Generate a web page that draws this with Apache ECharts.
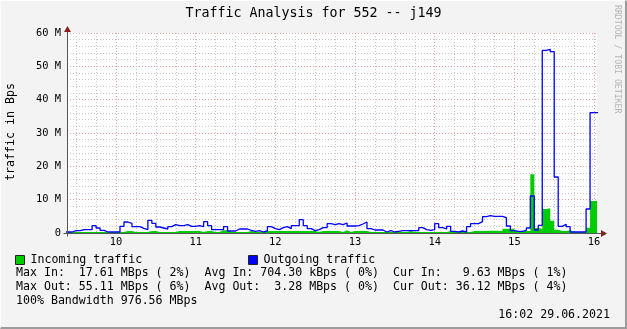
<!DOCTYPE html>
<html><head><meta charset="utf-8">
<script src="https://cdn.jsdelivr.net/npm/echarts@6/dist/echarts.min.js"></script>
<style>
html,body{margin:0;padding:0;background:#f3f3f3;}
#wrap{position:relative;width:627px;height:329px;}
#c{width:627px;height:329px;}
#frame{position:absolute;left:0;top:0;width:627px;height:329px;box-sizing:border-box;border-top:1px solid #fdfdfd;border-left:1px solid #fdfdfd;border-right:2px solid #9c9c9c;border-bottom:2px solid #9c9c9c;pointer-events:none;}
</style></head><body>
<div id="wrap"><div id="c"></div><div id="frame"></div></div>
<script>
// ---- data (values in M bytes/s, one per 3-minute sample starting 09:21) ----
const sampleStartHour = 9 + 21 / 60;
const sampleStepMinutes = 3;
const incoming = [
  0.3,0.3,0.3,0.3,0.3,0.3,0.3,0.3,0.3,0.3,0.3,0.3,0.3,0.3,0.3,
  0.6,0.6,
  0.3,0.3,0.3,0.3,
  0.6,0.6,
  0.3,0.3,0.3,0.3,0.3,
  0.6,0.6,0.6,0.6,0.6,0.6,
  0.3,
  0.6,0.6,
  0.3,0.3,
  0.8,0.8,
  0.3,0.3,0.3,0.3,0.3,
  0.6,
  0.3,0.3,0.3,
  0.6,0.6,0.6,0.6,0.6,0.6,0.6,0.6,0.6,0.6,0.6,0.6,0.6,
  0.3,
  0.6,0.6,0.6,0.6,0.6,
  0.3,
  0.8,
  0.3,
  0.6,0.6,0.6,0.6,
  0.3,0.3,0.3,0.3,0.3,0.3,0.3,0.3,0.3,0.3,
  0.6,
  0.3,0.3,0.3,0.3,0.3,0.3,0.3,0.3,0.3,
  0.6,
  0.3,0.3,0.3,0.3,0.3,
  0.6,0.6,0.6,0.6,
  0.7,0.7,0.7,
  0.6,
  1.3,1.3,1.3,
  0.6,0.6,0.6,0.6,
  17.61,1.5,1.3,7.2,7.4,3.7,1.0,0.6,0.6,0.8,0.3,0.3,0.3,0.3,1.6,9.6,9.63
];
const outgoing = [
  0.3,0.3,0.7,0.7,1.0,1.0,1.0,2.2,1.5,0.8,
  0.3,0.3,0.3,0.3,2.0,3.3,2.9,1.9,1.9,1.4,
  1.0,3.8,2.9,1.8,1.5,1.2,1.9,2.5,2.2,2.2,
  2.5,2.0,2.0,2.2,1.9,3.4,2.2,1.0,1.0,1.0,
  1.9,0.6,0.6,1.2,1.2,1.2,0.8,0.5,0.7,0.3,
  0.6,1.9,1.3,1.0,1.6,1.9,1.3,2.2,2.2,4.0,
  2.2,1.3,0.7,1.0,1.6,1.6,2.8,2.5,2.8,2.5,
  3.0,2.1,2.1,2.2,2.7,3.3,1.3,0.9,0.9,0.9,
  0.3,0.7,0.3,0.5,0.7,0.7,0.7,0.7,0.7,1.6,
  1.0,0.8,1.0,2.8,1.6,1.2,2.0,0.5,0.3,0.6,
  0.3,1.9,2.8,2.8,3.4,4.9,5.2,5.0,5.0,5.0,
  4.6,2.1,0.7,0.5,0.5,0.8,1.5,11.1,0.9,2.3,
  54.8,55.11,54.4,16.8,2.0,2.6,1.9,0.3,0.3,0.3,
  0.3,7.2,36.12,36.12
];
const hourTicks = [10, 11, 12, 13, 14, 15, 16];
const quarterTicks = [9.5, 9.75, 10.25, 10.5, 10.75, 11.25, 11.5, 11.75, 12.25, 12.5, 12.75,
  13.25, 13.5, 13.75, 14.25, 14.5, 14.75, 15.25, 15.5, 15.75];
const yTickLabels = ['0', '10 M', '20 M', '30 M', '40 M', '50 M', '60 M'];
const titleText = 'Traffic Analysis for 552 -- j149';
const seriesNames = ['Incoming traffic', 'Outgoing traffic'];
const statLines = [
  'Max In:  17.61 MBps ( 2%)  Avg In: 704.30 kBps ( 0%)  Cur In:   9.63 MBps ( 1%)',
  'Max Out: 55.11 MBps ( 6%)  Avg Out:  3.28 MBps ( 0%)  Cur Out: 36.12 MBps ( 4%)',
  '100% Bandwidth 976.56 MBps'
];
const stampText = '16:02 29.06.2021';
const watermark = 'RRDTOOL / TOBI OETIKER';

// ---- layout ----
const X_MIN = 9.385, X_MAX = 16.037;
const MONO = "'DejaVu Sans Mono', monospace";

function toSteps(vals) {
  const pts = vals.map((v, i) => [sampleStartHour + i * sampleStepMinutes / 60, v]);
  pts.push([sampleStartHour + vals.length * sampleStepMinutes / 60, vals[vals.length - 1]]);
  return pts;
}

const chart = echarts.init(document.getElementById('c'), null, {renderer: 'canvas'});
const option = {
  backgroundColor: '#f3f3f3',
  animation: false,
  title: {
    text: titleText, left: 'center', top: 7, padding: 0,
    textStyle: {fontFamily: MONO, fontSize: 13.3, fontWeight: 'normal', color: '#000'}
  },
  legend: [
    {data: [seriesNames[0]], left: 15, top: 254, padding: 0, icon: 'rect', itemWidth: 9, itemHeight: 9,
     itemGap: 0, itemStyle: {borderColor: '#222', borderWidth: 1},
     textStyle: {fontFamily: MONO, fontSize: 11.6, color: '#000', padding: [0, 0, 0, 1]}},
    {data: [seriesNames[1]], left: 248, top: 254, padding: 0, icon: 'rect', itemWidth: 9, itemHeight: 9,
     itemGap: 0, itemStyle: {borderColor: '#222', borderWidth: 1},
     textStyle: {fontFamily: MONO, fontSize: 11.6, color: '#000', padding: [0, 0, 0, 1]}}
  ],
  grid: {left: 67, top: 33, width: 530, height: 200, show: true, backgroundColor: '#ffffff', borderWidth: 0},
  xAxis: [
    {type: 'value', min: X_MIN, max: X_MAX, position: 'bottom',
     axisLine: {show: false}, axisTick: {show: false, customValues: quarterTicks},
     axisLabel: {show: false, customValues: quarterTicks},
     splitLine: {show: true, lineStyle: {color: '#c8c8c8', width: 1, type: [1, 2]}}},
    {type: 'value', min: X_MIN, max: X_MAX, position: 'bottom',
     axisLine: {show: true, onZero: false, lineStyle: {color: '#555', width: 1}},
     axisTick: {show: false, customValues: hourTicks},
     axisLabel: {customValues: hourTicks, margin: 4, fontFamily: MONO, fontSize: 10.4, color: '#000',
       formatter: v => String(v)},
     splitLine: {show: true, lineStyle: {color: '#e8a0a0', width: 1, type: [1, 2]}}}
  ],
  yAxis: {
    type: 'value', min: 0, max: 60, interval: 10,
    axisLine: {show: true, lineStyle: {color: '#555', width: 1}},
    axisTick: {show: false},
    axisLabel: {margin: 6, fontFamily: MONO, fontSize: 10.4, color: '#000',
      formatter: v => yTickLabels[Math.round(v / 10)]},
    splitLine: {show: true, lineStyle: {color: '#e8a0a0', width: 1, type: [1, 2]}},
    minorTick: {show: false, splitNumber: 5},
    minorSplitLine: {show: true, lineStyle: {color: '#c8c8c8', width: 1, type: [1, 2]}}
  },
  series: [
    {name: seriesNames[0], type: 'line', xAxisIndex: 1, step: 'end', data: toSteps(incoming),
     symbol: 'none', color: '#00cc00', lineStyle: {width: 0},
     areaStyle: {color: '#00cc00', opacity: 1}, z: 2},
    {name: seriesNames[1], type: 'line', xAxisIndex: 1, step: 'end', data: toSteps(outgoing),
     symbol: 'none', color: '#0000ff', lineStyle: {width: 1.3, color: '#0000ff'}, z: 3}
  ]
};
chart.setOption(option);

// decorations: axis name, arrows, statistics text
const origin = chart.convertToPixel({xAxisIndex: 1, yAxisIndex: 0}, [X_MIN, 0]);
const topLeft = chart.convertToPixel({xAxisIndex: 1, yAxisIndex: 0}, [X_MIN, 60]);
const botRight = chart.convertToPixel({xAxisIndex: 1, yAxisIndex: 0}, [X_MAX, 0]);
const ox = Math.round(origin[0]) + 0.5, oy = Math.round(origin[1]) + 0.5;
const arrowColor = '#8b1e1e';
const textStyleBase = {font: '11.6px ' + MONO, fill: '#000'};
const g = [
  {type: 'line', shape: {x1: ox, y1: oy + 3, x2: ox, y2: topLeft[1] - 3}, style: {stroke: '#555', lineWidth: 1}, z: 10},
  {type: 'line', shape: {x1: ox - 4, y1: oy, x2: botRight[0] + 4, y2: oy}, style: {stroke: '#555', lineWidth: 1}, z: 10},
  {type: 'polygon', shape: {points: [[ox, topLeft[1] - 7], [ox - 3.5, topLeft[1] - 1], [ox + 3.5, topLeft[1] - 1]]},
   style: {fill: arrowColor}, z: 11},
  {type: 'polygon', shape: {points: [[botRight[0] + 10, oy], [botRight[0] + 4, oy - 3.5], [botRight[0] + 4, oy + 3.5]]},
   style: {fill: arrowColor}, z: 11},
  {type: 'text', x: 11, y: 132, rotation: Math.PI / 2,
   style: {text: 'traffic in Bps', font: '11.6px ' + MONO, fill: '#000', align: 'center', verticalAlign: 'middle'}},
  {type: 'text', x: 617, y: 5, rotation: -Math.PI / 2,
   style: {text: watermark, font: '8.2px ' + MONO, fill: '#b4b4b4', align: 'left', verticalAlign: 'middle'}},
  {type: 'text', x: 610, y: 315,
   style: Object.assign({text: stampText, align: 'right', verticalAlign: 'middle'}, textStyleBase)}
];
statLines.forEach((s, i) => {
  g.push({type: 'text', x: 16, y: 273 + i * 14,
    style: Object.assign({text: s, align: 'left', verticalAlign: 'middle'}, textStyleBase)});
});
chart.setOption({graphic: {elements: g}});
</script>
</body></html>
